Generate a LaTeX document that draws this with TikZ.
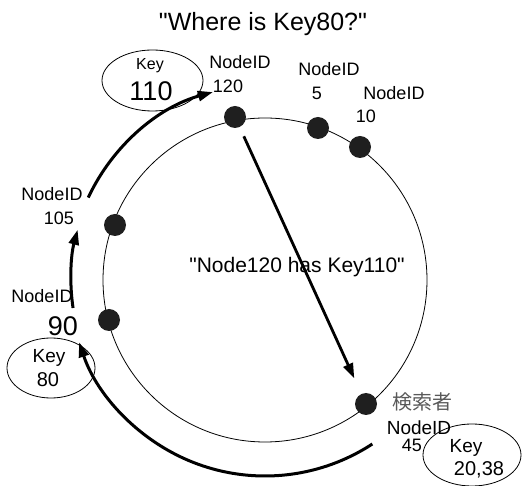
\documentclass[tikz,border=0pt]{standalone}
\usepackage{fontspec}
\setmainfont{Liberation Sans}[Ligatures=TeXOff]
\newfontfamily\cjkfont{Noto Sans CJK JP}
\usetikzlibrary{arrows.meta,shapes.geometric}

\newcommand{\fs}[1]{\fontsize{#1}{#1}\selectfont}

\begin{document}
\begin{tikzpicture}[x=1pt,y=-1pt,
  peer/.style={circle,fill=black!88,minimum size=22pt,inner sep=0pt},
  txt/.style={anchor=base,inner sep=0pt,font=\fs{18}},
  keyring/.style={ellipse,draw,line width=0.8pt,inner sep=0pt},
  hop/.style={line width=3pt,-{Triangle[length=15pt,width=10pt]}},
]
\useasboundingbox (0,0) rectangle (523,486);

% the ring
\coordinate (c) at (265,280);
\draw[line width=0.8pt] (c) circle[radius=162];

% peers on the ring
\node[peer] (n120) at (235,117) {};
\node[peer] (n5)   at (318,128) {};
\node[peer] (n10)  at (360,147) {};
\node[peer] (n105) at (115,225) {};
\node[peer] (n90)  at (109,320) {};
\node[peer] (n45)  at (366,404) {};

% key ellipses
\node[keyring,minimum width=101pt,minimum height=61pt] (k110) at (152.5,80.5) {};
\node[keyring,minimum width=88pt,minimum height=60pt] (k80) at (51,368) {};
\node[keyring,minimum width=98pt,minimum height=62pt] (k45) at (472,455) {};

% title and answer
\node[txt,font=\fs{25}] (title) at (263,31) {"Where is Key80?"};
\node[txt,font=\fs{21}] (answer) at (297,273) {"Node120 has Key110"};

% node labels
\node[txt] (l120a) at (240,69) {NodeID};
\node[txt] (l120b) at (228,93) {120};
\node[txt] (l5a) at (329,76) {NodeID};
\node[txt] (l5b) at (317,100) {5};
\node[txt] (l10a) at (394,100) {NodeID};
\node[txt] (l10b) at (366,123) {10};
\node[txt] (l105a) at (52,201) {NodeID};
\node[txt] (l105b) at (59,225) {105};
\node[txt] (l90a) at (42,303) {NodeID};
\node[txt,font=\fs{27}] (l90b) at (63,336) {90};
\node[anchor=center,inner sep=0pt,font=\cjkfont\fs{20},text=black!65] (seeker) at (422,402) {検索者};
\node[txt,font=\fs{19}] (l45a) at (419,435) {NodeID};
\node[txt] (l45b) at (412,452) {45};

% key labels
\node[txt,font=\fs{16}] (t110a) at (150,70) {Key};
\node[txt,font=\fs{27}] (t110b) at (151,101) {110};
\node[txt,font=\fs{19}] (t80a) at (49,363) {Key};
\node[txt,font=\fs{20}] (t80b) at (48,387) {80};
\node[txt,font=\fs{19}] (t45a) at (466,453) {Key};
\node[txt,font=\fs{20}] (t45b) at (479,476) {20,38};

% lookup hops around the ring
\draw[hop] (c) ++(56.8:196) coordinate (h1) arc[start angle=56.8,end angle=161.5,radius=196];
\draw[hop] (c) ++(171.7:194) coordinate (h2) arc[start angle=171.7,end angle=195,radius=194];
\draw[hop] (c) ++(205:195) coordinate (h3) arc[start angle=205,end angle=254.5,radius=195];

% reply straight back to the searcher
\draw[line width=2.8pt,-{Triangle[length=15pt,width=10pt]},shorten <=10pt,shorten >=17pt] (n120) -- (n45);
\end{tikzpicture}
\end{document}
